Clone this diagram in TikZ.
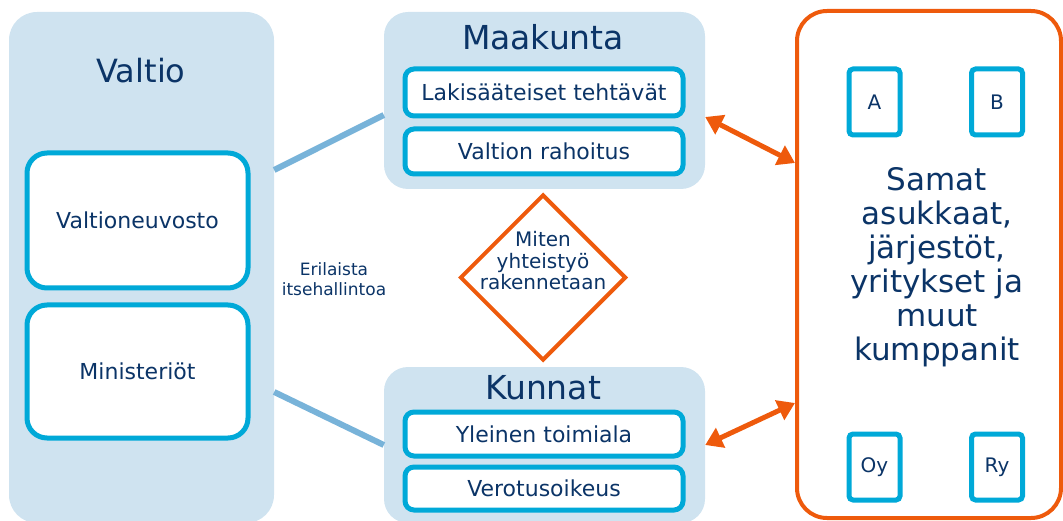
\documentclass[tikz,border=0pt]{standalone}
\usepackage{fontspec}
\setmainfont{DejaVu Sans}
\usetikzlibrary{fit,shapes.geometric,arrows.meta}
\definecolor{bgblue}{HTML}{CFE3F0}
\definecolor{cyanb}{HTML}{00A9D8}
\definecolor{linkb}{HTML}{78B3D9}
\definecolor{orng}{HTML}{EE5A0C}
\definecolor{navy}{HTML}{0B3467}
\newcommand{\fsz}[2]{\fontsize{#1}{#2}\selectfont}
\tikzset{
  panel/.style={fit={#1}, inner sep=0pt, fill=bgblue, rounded corners=24pt},
  box/.style={rectangle, inner sep=0pt, draw=cyanb, line width=5pt, fill=white, text=navy, font=\fsz{22}{26}},
  item/.style={box, minimum width=278, rounded corners=9pt},
  bigitem/.style={box, minimum width=221, rounded corners=20pt},
  tile/.style={box, minimum width=51, minimum height=66, rounded corners=4pt, font=\fsz{20}{24}},
  title/.style={text=navy, font=\fsz{33}{40}, inner sep=0pt},
  link/.style={draw=linkb, line width=6pt},
  twoway/.style={draw=orng, line width=5pt, {Triangle[length=17pt,width=21pt]}-{Triangle[length=17pt,width=21pt]}},
}
\begin{document}
\begin{tikzpicture}[x=1pt,y=-1pt]
\useasboundingbox (0,0) rectangle (1063,521);
% Valtio
\node[panel={(9,12)(274,523)}, rounded corners=28pt] (valtio) {};
\node[title, font=\fsz{32}{38}] (valtiot) at (141,71) {Valtio};
\node[bigitem, minimum height=135] (vn) at (137.5,220.5) {Valtioneuvosto};
\node[bigitem, minimum height=133] (min) at (137.5,371.5) {Ministeriöt};
% Maakunta
\node[panel={(384,12)(705,189)}] (maak) {};
\node[title] (maakt) at (543,37) {Maakunta};
\node[item, minimum height=47] (laki) at (544,92.5) {Lakisääteiset tehtävät};
\node[item, minimum height=45] (rah) at (544,151.5) {Valtion rahoitus};
% Kunnat
\node[panel={(384,367)(705,523)}] (kunn) {};
\node[title] (kunnt) at (543,388) {Kunnat};
\node[item, minimum height=44] (yle) at (544,434) {Yleinen toimiala};
\node[item, minimum height=43] (ver) at (544,488.5) {Verotusoikeus};
% links
\draw[link] (valtio.east |- 0,170) -- (maak.west |- 0,115);
\draw[link] (valtio.east |- 0,392) -- (kunn.west |- 0,445);
\node[text=navy, font=\fsz{17}{20}, align=center, inner sep=0pt] (eri) at (334,279) {Erilaista\\itsehallintoa};
% diamond
\node[diamond, draw=orng, line width=4pt, minimum width=166, minimum height=166, inner sep=0pt, fill=white] (dia) at (543,277.5) {};
\node[text=navy, font=\fsz{20}{21.5}, align=center, inner sep=0pt] (diat) at (543,261) {Miten\\yhteistyö\\rakennetaan};
% right box
\node[fit={(797,11)(1061,518)}, inner sep=0pt, draw=orng, line width=4pt, rounded corners=30pt] (oth) {};
\node[tile] (ta) at (874.5,102) {A};
\node[tile] (tb) at (997,102) {B};
\node[tile] (toy) at (874.5,467) {Oy};
\node[tile] (try) at (997,467) {Ry};
\node[text=navy, font=\fsz{31}{34}, align=center, inner sep=0pt] (samat) at (937,267) {Samat\\asukkaat,\\järjestöt,\\yritykset ja\\muut\\kumppanit};
% arrows
\draw[twoway] (maak.east |- 0,117) -- (oth.west |- 0,163);
\draw[twoway] (kunn.east |- 0,445) -- (oth.west |- 0,403);
\end{tikzpicture}
\end{document}
